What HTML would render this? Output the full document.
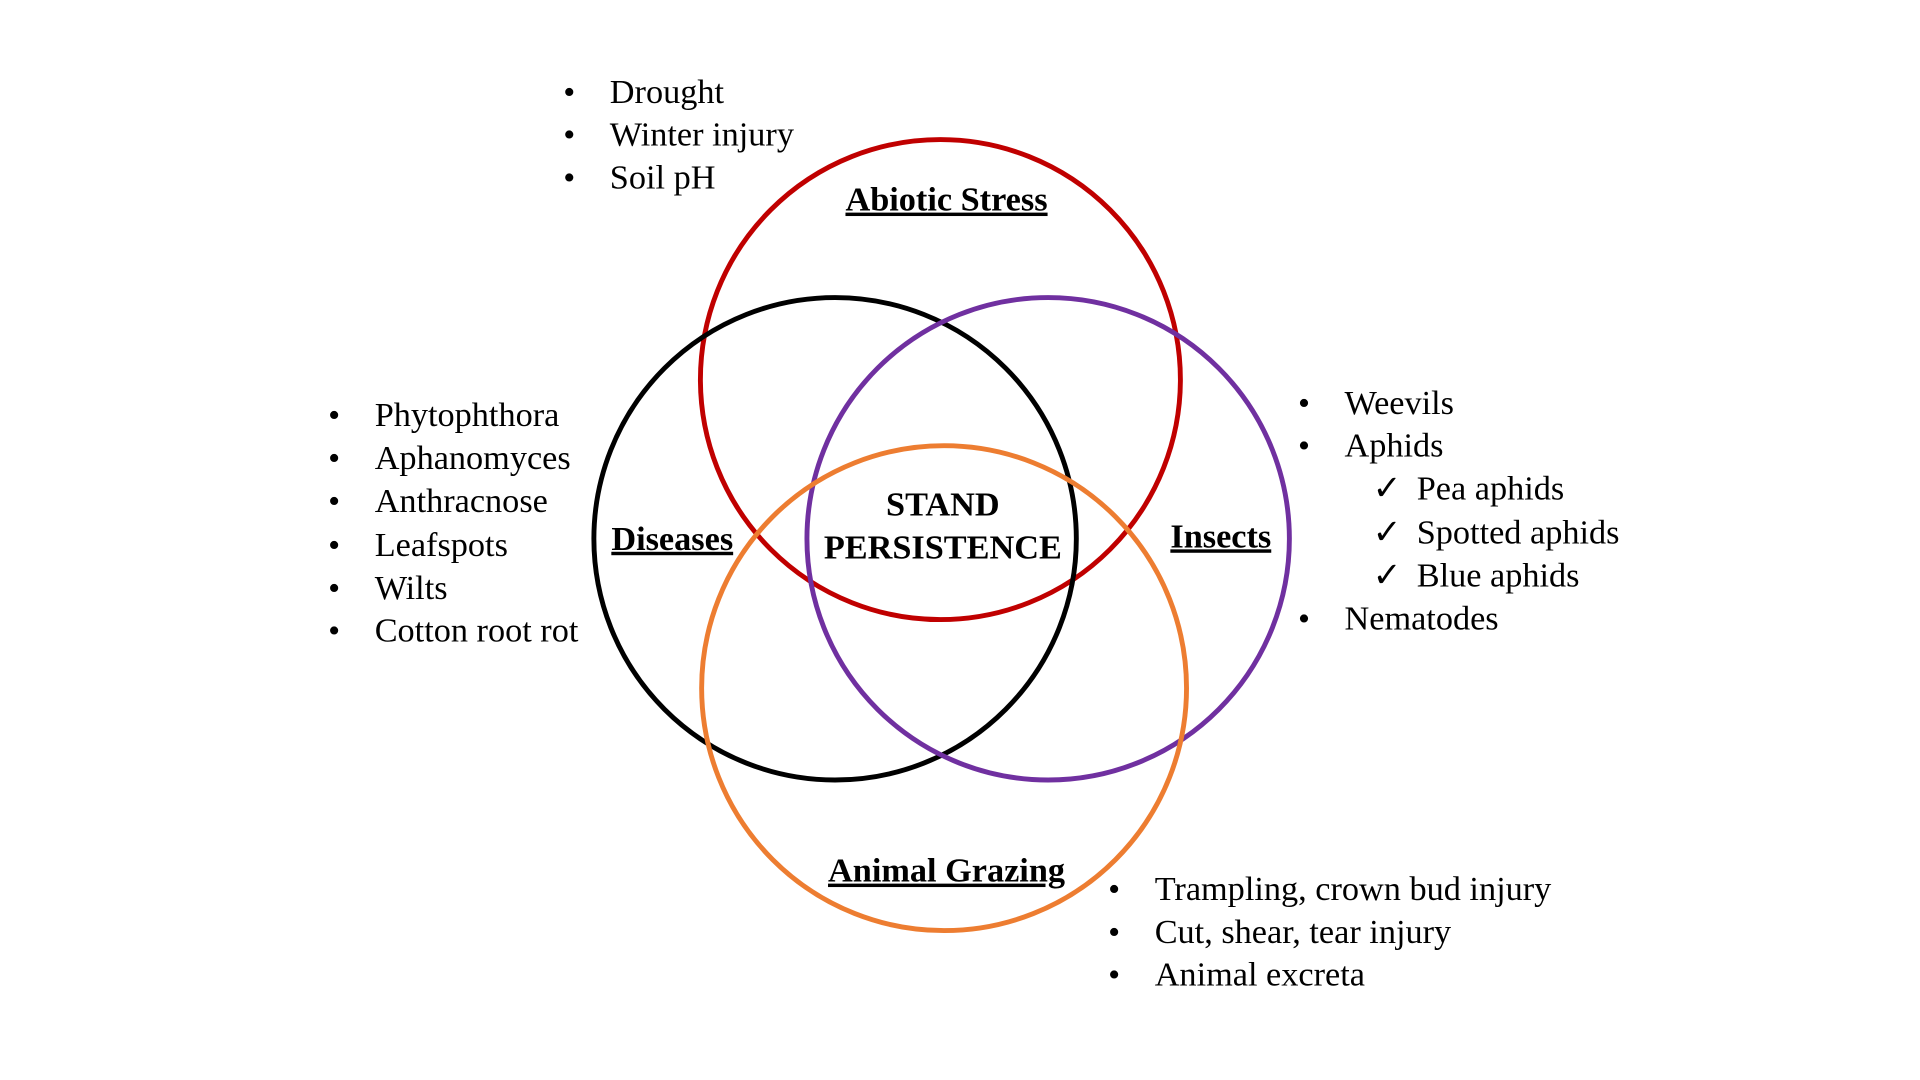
<!DOCTYPE html>
<html><head><meta charset="utf-8"><style>
html,body{margin:0;padding:0;background:#fff;width:1920px;height:1080px;overflow:hidden}
svg{display:block}
text{font-family:"Liberation Serif",serif;font-size:28px;fill:#000}
.b{font-weight:bold;text-decoration:underline}
</style></head><body>
<svg width="1920" height="1080" viewBox="0 0 1568 882" xmlns="http://www.w3.org/2000/svg">
<g fill="none" stroke-width="4">
<circle cx="768" cy="310" r="196" stroke="#c00000"/>
<circle cx="682" cy="440" r="197" stroke="#000"/>
<circle cx="856" cy="440" r="197" stroke="#7030a0"/>
<circle cx="771" cy="562" r="198" stroke="#ed7d31"/>
</g>
<text class="b" x="773" y="172" text-anchor="middle">Abiotic Stress</text>
<text class="b" x="549" y="449" text-anchor="middle">Diseases</text>
<text class="b" x="997" y="447" text-anchor="middle">Insects</text>
<text class="b" x="773" y="720" text-anchor="middle">Animal Grazing</text>
<text x="770" y="421" text-anchor="middle" font-weight="bold">STAND</text>
<text x="770" y="456" text-anchor="middle" font-weight="bold">PERSISTENCE</text>
<g>
<text x="460" y="84">•</text><text x="498" y="84">Drought</text>
<text x="460" y="119">•</text><text x="498" y="119">Winter injury</text>
<text x="460" y="154">•</text><text x="498" y="154">Soil pH</text>
</g>
<g>
<text x="268" y="348">•</text><text x="306" y="348">Phytophthora</text>
<text x="268" y="383">•</text><text x="306" y="383">Aphanomyces</text>
<text x="268" y="418">•</text><text x="306" y="418">Anthracnose</text>
<text x="268" y="454">•</text><text x="306" y="454">Leafspots</text>
<text x="268" y="489">•</text><text x="306" y="489">Wilts</text>
<text x="268" y="524">•</text><text x="306" y="524">Cotton root rot</text>
</g>
<g>
<text x="1060" y="338">•</text><text x="1098" y="338">Weevils</text>
<text x="1060" y="373">•</text><text x="1098" y="373">Aphids</text>
<text x="1121" y="408">✓</text><text x="1157" y="408">Pea aphids</text>
<text x="1121" y="444">✓</text><text x="1157" y="444">Spotted aphids</text>
<text x="1121" y="479">✓</text><text x="1157" y="479">Blue aphids</text>
<text x="1060" y="514">•</text><text x="1098" y="514">Nematodes</text>
</g>
<g>
<text x="905" y="735">•</text><text x="943" y="735">Trampling, crown bud injury</text>
<text x="905" y="770">•</text><text x="943" y="770">Cut, shear, tear injury</text>
<text x="905" y="805">•</text><text x="943" y="805">Animal excreta</text>
</g>
</svg>
</body></html>
